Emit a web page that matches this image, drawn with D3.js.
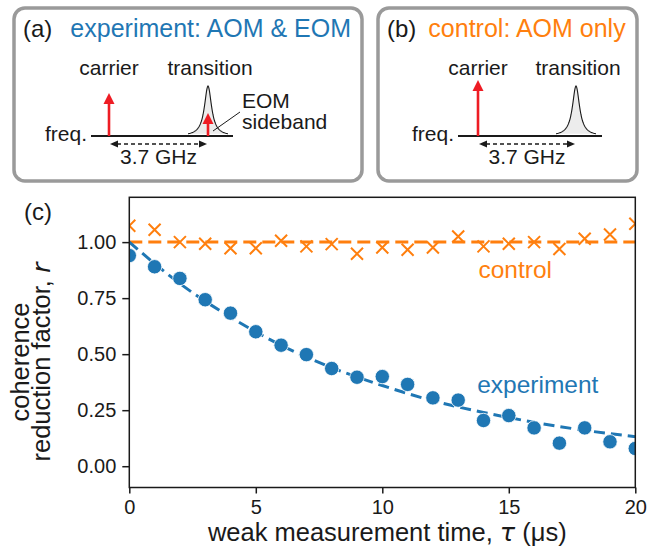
<!DOCTYPE html>
<html><head><meta charset="utf-8">
<script src="https://cdn.jsdelivr.net/npm/d3@7"></script>
<style>
html,body{margin:0;padding:0;background:#fff;}
svg{display:block;font-family:"Liberation Sans",Arial,sans-serif;}
</style></head>
<body>
<svg id="fig" width="649" height="548"></svg>
<script>
// ---------- data ----------
const times = [0,1,2,3,4,5,6,7,8,9,10,11,12,13,14,15,16,17,18,19,20];
const experimentR = [0.94,0.89,0.838,0.743,0.683,0.60,0.54,0.498,0.436,0.397,0.40,0.365,0.305,0.295,0.204,0.226,0.171,0.103,0.171,0.109,0.079];
const controlR = [1.073,1.055,1.0,0.993,0.973,0.973,1.006,0.981,0.991,0.948,0.976,0.966,0.976,1.025,0.981,0.993,1.0,0.969,1.015,1.034,1.082];
const fitTimes = [0,2,4,6,8,10,12,14,16,18,20];
const experimentFit = [1.0,0.815,0.665,0.54,0.44,0.36,0.292,0.24,0.196,0.16,0.132];
const controlFitTimes = [0,20];
const controlFit = [1.0,1.0];
const xTicks = [0,5,10,15,20];
const yTicks = [0,0.25,0.5,0.75,1.0];

const BLUE = "#1f77b4", ORANGE = "#ff7f0e", RED = "#ee1c24", INK = "#1a1a1a";

const svg = d3.select("#fig");

// ---------- main plot ----------
const x = d3.scaleLinear().domain([0,20]).range([129.3,635.3]);
const y = d3.scaleLinear().domain([-0.095,1.2]).range([487.5,197.3]);

svg.append("defs").append("clipPath").attr("id","plotclip")
  .append("rect").attr("x",x(0)).attr("y",y(1.2)).attr("width",x(20)-x(0)).attr("height",y(-0.095)-y(1.2));

const gx = svg.append("g").attr("transform",`translate(0,${y(-0.095)})`)
  .call(d3.axisBottom(x).tickValues(xTicks).tickSize(6).tickPadding(6).tickFormat(d3.format("d")));
const gy = svg.append("g").attr("transform",`translate(${x(0)},0)`)
  .call(d3.axisLeft(y).tickValues(yTicks).tickSize(7).tickPadding(6).tickFormat(d3.format(".2f")));
[gx,gy].forEach(g=>{
  g.select(".domain").remove();
  g.selectAll(".tick line").attr("stroke",INK).attr("stroke-width",1.5);
  g.selectAll(".tick text").attr("fill",INK).style("font-size","20px").style("font-family","Liberation Sans, Arial, sans-serif");
});

const plot = svg.append("g").attr("clip-path","url(#plotclip)");

const line = d3.line().x(d=>x(d[0])).y(d=>y(d[1]));
plot.append("path")
  .datum(controlFitTimes.map((t,i)=>[t,controlFit[i]]))
  .attr("d",line).attr("fill","none").attr("stroke",ORANGE)
  .attr("stroke-width",3).attr("stroke-dasharray","13,6");
plot.append("path")
  .datum(fitTimes.map((t,i)=>[t,experimentFit[i]]))
  .attr("d",line.curve(d3.curveMonotoneX)).attr("fill","none").attr("stroke",BLUE)
  .attr("stroke-width",3).attr("stroke-dasharray","11,6");

plot.selectAll("circle.exp").data(times).enter().append("circle")
  .attr("cx",d=>x(d)).attr("cy",(d,i)=>y(experimentR[i])).attr("r",7.2)
  .attr("fill",BLUE).attr("stroke","#fff").attr("stroke-width",0.8);

const s = 6;
plot.selectAll("path.ctl").data(times).enter().append("path")
  .attr("d",(d,i)=>{const cx=x(d), cy=y(controlR[i]);
    return `M${cx-s},${cy-s}L${cx+s},${cy+s}M${cx-s},${cy+s}L${cx+s},${cy-s}`;})
  .attr("stroke",ORANGE).attr("stroke-width",2).attr("fill","none");

// frame
svg.append("rect").attr("x",x(0)).attr("y",y(1.2)).attr("width",x(20)-x(0)).attr("height",y(-0.095)-y(1.2))
  .attr("fill","none").attr("stroke",INK).attr("stroke-width",1.5);

// annotations
svg.append("text").attr("x",x(13.8)).attr("y",y(0.84)).attr("fill",ORANGE)
  .style("font-size","24.5px").text("control");
svg.append("text").attr("x",x(13.75)).attr("y",y(0.325)).attr("fill",BLUE)
  .style("font-size","24.5px").text("experiment");

// axis labels
const xl = svg.append("text").attr("x",(x(0)+x(20))/2+5).attr("y",541).attr("text-anchor","middle")
  .attr("fill",INK).style("font-size","25.5px");
xl.append("tspan").text("weak measurement time, ");
xl.append("tspan").style("font-family","DejaVu Sans").style("font-style","italic").text("τ");
xl.append("tspan").text(" (μs)");

const yl = svg.append("g").attr("transform","translate(0,362) rotate(-90)");
yl.append("text").attr("x",0).attr("y",29).attr("text-anchor","middle").attr("fill",INK)
  .style("font-size","25.5px").text("coherence");
const yl2 = yl.append("text").attr("x",0).attr("y",50).attr("text-anchor","middle").attr("fill",INK)
  .style("font-size","25.5px");
yl2.append("tspan").text("reduction factor, ");
yl2.append("tspan").style("font-family","DejaVu Sans").style("font-style","italic").text("r");

svg.append("text").attr("x",24).attr("y",220).attr("fill",INK).style("font-size","24px").text("(c)");

// ---------- inset panels ----------
function lorentz(cx, base, h, g){
  const pts=[];
  for(let dx=-20; dx<=20; dx+=0.5){ pts.push([cx+dx, base - h/(1+(dx/g)*(dx/g))]); }
  return pts;
}
function arrowUp(g, xx, y0, y1, color){
  g.append("line").attr("x1",xx).attr("x2",xx).attr("y1",y0).attr("y2",y1+9)
    .attr("stroke",color).attr("stroke-width",2.6);
  g.append("path").attr("d",`M${xx},${y1}L${xx-5.5},${y1+11}L${xx+5.5},${y1+11}Z`).attr("fill",color);
}
function panel(opt){
  const g = svg.append("g");
  g.append("rect").attr("x",opt.bx).attr("y",8).attr("width",opt.bw).attr("height",173)
    .attr("rx",11).attr("fill","#fff").attr("stroke","#9a9a9a").attr("stroke-width",3.5);
  const t = g.append("text").attr("x",opt.bx+9).attr("y",37);
  t.append("tspan").attr("fill",INK).style("font-size","24px").text(opt.tag);
  t.append("tspan").attr("fill",opt.titleColor).style("font-size","25px").attr("dx",opt.gap).text(opt.title);
  const base = 136;
  const pk = lorentz(opt.peakX, base, 50, 4.3);
  g.append("path").datum(pk).attr("d",d3.line()).attr("fill","#ececec").attr("stroke",INK).attr("stroke-width",1.1);
  g.append("line").attr("x1",opt.ax0).attr("x2",opt.ax1).attr("y1",base).attr("y2",base).attr("stroke",INK).attr("stroke-width",2.2);
  g.append("text").attr("x",opt.ax0-4).attr("y",base+5).attr("text-anchor","end").attr("fill",INK).style("font-size","21px").text("freq.");
  g.append("text").attr("x",opt.carrierX).attr("y",75).attr("text-anchor","middle").attr("fill",INK).style("font-size","21px").text("carrier");
  g.append("text").attr("x",opt.peakX+2).attr("y",75).attr("text-anchor","middle").attr("fill",INK).style("font-size","21px").text("transition");
  arrowUp(g, opt.carrierX, base, opt.carrierTop, RED);
  const ya = 144, xa0 = opt.carrierX+1, xa1 = opt.peakX-1;
  g.append("line").attr("x1",xa0+7).attr("x2",xa1-7).attr("y1",ya).attr("y2",ya)
    .attr("stroke",INK).attr("stroke-width",1.4).attr("stroke-dasharray","4,3");
  g.append("path").attr("d",`M${xa0},${ya}L${xa0+8},${ya-3.5}L${xa0+8},${ya+3.5}Z`).attr("fill",INK);
  g.append("path").attr("d",`M${xa1},${ya}L${xa1-8},${ya-3.5}L${xa1-8},${ya+3.5}Z`).attr("fill",INK);
  g.append("text").attr("x",(xa0+xa1)/2).attr("y",164).attr("text-anchor","middle").attr("fill",INK).style("font-size","21px").text("3.7 GHz");
  return g;
}
const ga = panel({bx:14,bw:348,tag:"(a)",title:"experiment: AOM & EOM",titleColor:BLUE,gap:18,
  ax0:91,ax1:233,carrierX:109,carrierTop:93,peakX:208});
arrowUp(ga, 208, 136, 113, RED);
ga.append("line").attr("x1",213).attr("y1",131).attr("x2",240).attr("y2",112).attr("stroke",INK).attr("stroke-width",1);
ga.append("text").attr("x",242).attr("y",108).attr("fill",INK).style("font-size","21px").text("EOM");
ga.append("text").attr("x",242).attr("y",129).attr("fill",INK).style("font-size","21px").text("sideband");

panel({bx:378,bw:259,tag:"(b)",title:"control: AOM only",titleColor:ORANGE,gap:12,
  ax0:458,ax1:602,carrierX:478,carrierTop:80,peakX:576});
</script>
</body></html>
